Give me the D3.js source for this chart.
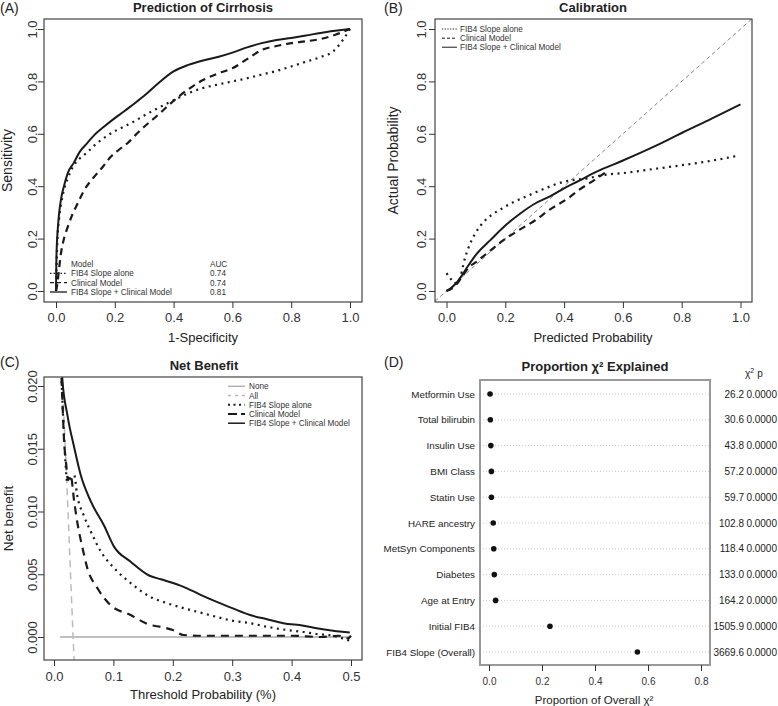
<!DOCTYPE html>
<html><head><meta charset="utf-8">
<script src="https://cdn.jsdelivr.net/npm/d3@7"></script>
<style>body{margin:0;background:#fff}svg{display:block;font-family:"Liberation Sans",Arial,sans-serif}</style>
</head><body><svg id="c" width="778" height="706"></svg>
<script>
// ---------- Panel A: ROC curves [1-specificity, sensitivity] ----------
const rocFib4 = [[0,0],[0.002,0.1],[0.005,0.2],[0.01,0.27],[0.017,0.33],[0.027,0.385],[0.04,0.43],[0.061,0.48],[0.08,0.505],[0.107,0.53],[0.13,0.555],[0.163,0.584],[0.2,0.61],[0.231,0.627],[0.27,0.65],[0.3,0.67],[0.333,0.69],[0.4,0.728],[0.45,0.755],[0.5,0.775],[0.55,0.788],[0.6,0.80],[0.65,0.812],[0.7,0.826],[0.75,0.84],[0.8,0.857],[0.85,0.875],[0.9,0.893],[0.943,0.915],[0.977,0.96],[1,1]];
const rocClin = [[0,0],[0.005,0.03],[0.01,0.08],[0.017,0.145],[0.025,0.19],[0.04,0.245],[0.055,0.29],[0.074,0.335],[0.096,0.385],[0.13,0.436],[0.16,0.475],[0.187,0.513],[0.215,0.54],[0.244,0.565],[0.27,0.595],[0.3,0.627],[0.35,0.675],[0.39,0.716],[0.45,0.77],[0.5,0.805],[0.55,0.83],[0.6,0.85],[0.65,0.885],[0.7,0.92],[0.75,0.935],[0.8,0.946],[0.85,0.953],[0.9,0.962],[0.95,0.978],[1,1]];
const rocBoth = [[0,0],[0.001,0.1],[0.003,0.18],[0.005,0.22],[0.01,0.29],[0.017,0.35],[0.027,0.40],[0.04,0.45],[0.061,0.49],[0.08,0.53],[0.107,0.565],[0.13,0.595],[0.163,0.627],[0.2,0.66],[0.231,0.685],[0.26,0.71],[0.3,0.745],[0.35,0.795],[0.4,0.838],[0.45,0.863],[0.5,0.88],[0.55,0.893],[0.6,0.91],[0.65,0.93],[0.7,0.946],[0.75,0.958],[0.8,0.966],[0.85,0.975],[0.9,0.985],[0.95,0.993],[1,1]];
const modelNames = ["FIB4 Slope alone","Clinical Model","FIB4 Slope + Clinical Model"];
const aucValues = ["0.74","0.74","0.81"];
const unitTicks = [0,0.2,0.4,0.6,0.8,1.0];

// ---------- Panel B: calibration [predicted, actual] ----------
const calFib4 = [[0,0.068],[0.015,0.045],[0.025,0.03],[0.04,0.035],[0.064,0.13],[0.08,0.18],[0.098,0.22],[0.132,0.27],[0.16,0.295],[0.189,0.315],[0.22,0.335],[0.257,0.354],[0.3,0.375],[0.336,0.392],[0.393,0.415],[0.44,0.425],[0.48,0.43],[0.52,0.44],[0.55,0.445],[0.6,0.45],[0.7,0.465],[0.8,0.48],[0.9,0.497],[0.985,0.515]];
const calClin = [[0,0],[0.03,0.02],[0.05,0.05],[0.076,0.09],[0.1,0.11],[0.15,0.155],[0.189,0.19],[0.25,0.235],[0.302,0.27],[0.35,0.31],[0.415,0.355],[0.45,0.385],[0.505,0.425],[0.55,0.46]];
const calBoth = [[0,0],[0.02,0.015],[0.04,0.04],[0.076,0.1],[0.1,0.138],[0.15,0.195],[0.2,0.25],[0.25,0.295],[0.3,0.333],[0.35,0.36],[0.4,0.392],[0.45,0.42],[0.5,0.45],[0.573,0.485],[0.6,0.498],[0.7,0.548],[0.75,0.575],[0.8,0.603],[0.9,0.657],[1.0,0.712]];
const diagRef = [0,1];

// ---------- Panel C: net benefit [threshold, net benefit] ----------
const nbNone = [[0.01,0],[0.5,0]];
const nbAll = [[0.005,0.03],[0.0213,0.0126],[0.0337,-0.0018],[0.037,-0.0055]];
const nbFib4 = [[0.01,0.024],[0.014,0.019],[0.0196,0.0137],[0.022,0.0124],[0.028,0.0126],[0.034,0.0129],[0.039,0.0113],[0.05,0.0097],[0.062,0.0084],[0.079,0.0068],[0.101,0.0055],[0.129,0.0043],[0.162,0.0032],[0.19,0.0027],[0.218,0.0023],[0.25,0.0019],[0.274,0.0016],[0.3,0.0013],[0.33,0.0011],[0.36,0.0008],[0.386,0.0006],[0.42,0.0004],[0.442,0.00024],[0.47,0.0001],[0.498,-0.0003]];
const nbClin = [[0.01,0.024],[0.014,0.019],[0.017,0.0156],[0.02,0.014],[0.024,0.0125],[0.028,0.0129],[0.034,0.0108],[0.039,0.0092],[0.048,0.0071],[0.056,0.0055],[0.073,0.0039],[0.095,0.00255],[0.129,0.00175],[0.162,0.00096],[0.18,0.0008],[0.2,0.00056],[0.218,0.00016],[0.25,0.0001],[0.3,0.0001],[0.35,0.0001],[0.4,0.0001],[0.45,0.0],[0.48,0.0001],[0.495,-0.0001],[0.5,0.0001]];
const nbBoth = [[0.01,0.024],[0.014,0.0206],[0.0225,0.0177],[0.034,0.0151],[0.045,0.0129],[0.062,0.0108],[0.084,0.0089],[0.101,0.0072],[0.129,0.006],[0.16,0.0049],[0.18,0.0046],[0.218,0.004],[0.245,0.0034],[0.274,0.0028],[0.3,0.0023],[0.33,0.00175],[0.36,0.0014],[0.386,0.0011],[0.42,0.0009],[0.442,0.0007],[0.47,0.0005],[0.498,0.00035]];
const nbXTicks = [0,0.1,0.2,0.3,0.4,0.5];
const nbYTicks = [0,0.005,0.010,0.015,0.020];
const nbLegend = ["None","All","FIB4 Slope alone","Clinical Model","FIB4 Slope + Clinical Model"];

// ---------- Panel D: proportion chi-square explained ----------
const features = ["Metformin Use","Total bilirubin","Insulin Use","BMI Class","Statin Use","HARE ancestry","MetSyn Components","Diabetes","Age at Entry","Initial FIB4","FIB4 Slope (Overall)"];
const chiSq = ["26.2","30.6","43.8","57.2","59.7","102.8","118.4","133.0","164.2","1505.9","3669.6"];
const pValues = ["0.0000","0.0000","0.0000","0.0000","0.0000","0.0000","0.0000","0.0000","0.0000","0.0000","0.0000"];
const propChi = [0.004,0.005,0.007,0.009,0.009,0.016,0.018,0.020,0.025,0.230,0.560];
const propTicks = [0,0.2,0.4,0.6,0.8];

// ================= drawing =================
const ink = "#1a1a1a", axisInk = "#333";
const svg = d3.select("#c");
const defs = svg.append("defs");
const fmt1 = d3.format(".1f"), fmt3 = d3.format(".3f");

function makePanel(id, b){
  defs.append("clipPath").attr("id","clip"+id).append("rect")
    .attr("x",b.x0).attr("y",b.y0).attr("width",b.x1-b.x0).attr("height",b.y1-b.y0);
  const g = svg.append("g");
  const plot = g.append("g").attr("clip-path",`url(#clip${id})`);
  return {g, plot};
}
function drawBox(g,b,color,w){
  g.append("rect").attr("x",b.x0).attr("y",b.y0).attr("width",b.x1-b.x0).attr("height",b.y1-b.y0)
    .attr("fill","none").attr("stroke",color).attr("stroke-width",w);
}
function xAxis(g, xs, b, ticks, f, fs, baseline){
  const ax = g.append("g").attr("transform",`translate(0,${b.y1})`)
    .call(d3.axisBottom(xs).tickValues(ticks).tickFormat(f).tickSize(6).tickSizeOuter(0));
  ax.attr("font-family",null).attr("font-size",fs);
  ax.select(".domain").remove();
  ax.selectAll("line").attr("stroke",axisInk);
  ax.selectAll("text").attr("y",baseline-b.y1).attr("dy",null).attr("fill",axisInk);
}
function yAxis(g, ys, b, ticks, f, fs, centerX){
  const ax = g.append("g").attr("transform",`translate(${b.x0},0)`)
    .call(d3.axisLeft(ys).tickValues(ticks).tickFormat(f).tickSize(6).tickSizeOuter(0));
  ax.attr("font-family",null).attr("font-size",fs);
  ax.select(".domain").remove();
  ax.selectAll("line").attr("stroke",axisInk);
  ax.selectAll("text").attr("x",null).attr("dy",null).attr("text-anchor","middle").attr("fill",axisInk)
    .attr("transform",`translate(${centerX-b.x0+fs*0.36},0) rotate(-90)`);
}
function label(g, txt, x, y, fs, opts={}){
  const t = g.append("text").attr("x",x).attr("y",y).attr("font-size",fs).attr("fill",opts.fill||"#222")
    .attr("text-anchor",opts.anchor||"middle").text(txt);
  if(opts.bold) t.attr("font-weight","bold");
  return t;
}
function rotLabel(g, txt, cx, cy, fs){
  g.append("text").attr("font-size",fs).attr("fill","#222").attr("text-anchor","middle")
    .attr("transform",`translate(${cx+fs*0.36},${cy}) rotate(-90)`).text(txt);
}
function curve(g, data, xs, ys, style){
  const line = d3.line().x(d=>xs(d[0])).y(d=>ys(d[1])).curve(style.smooth===false?d3.curveLinear:d3.curveMonotoneX);
  g.append("path").datum(data).attr("d",line).attr("fill","none")
    .attr("stroke",style.color||ink).attr("stroke-width",style.w||2)
    .attr("stroke-dasharray",style.dash||null).attr("stroke-linejoin","round");
}
const stDot = {dash:"2,4.5",w:2.2}, stDash = {dash:"7,5",w:2.2}, stSolid = {w:2};

// ---- Panel A ----
{
  const b = {x0:44,x1:362,y0:19,y1:302};
  const xs = d3.scaleLinear().domain([0,1]).range([56,350]);
  const ys = d3.scaleLinear().domain([0,1]).range([291,29]);
  const {g, plot} = makePanel("A", b);
  curve(plot, rocFib4, xs, ys, stDot);
  curve(plot, rocClin, xs, ys, stDash);
  curve(plot, rocBoth, xs, ys, stSolid);
  drawBox(g,b,"#444",1.2);
  xAxis(g, xs, b, unitTicks, fmt1, 13, 321.5);
  yAxis(g, ys, b, unitTicks, fmt1, 13, 32);
  label(g, "Prediction of Cirrhosis", 203, 12, 13, {bold:true});
  label(g, "(A)", 0, 13, 14, {anchor:"start"});
  label(g, "1-Specificity", 203, 341.5, 13);
  rotLabel(g, "Sensitivity", 7, 160.5, 14);
  const lg = g.append("g").attr("font-size",8.2).attr("fill","#333");
  const rows = [264,273.3,282.6,292];
  lg.append("text").attr("x",71).attr("y",rows[0]+3).text("Model");
  lg.append("text").attr("x",210).attr("y",rows[0]+3).text("AUC");
  modelNames.forEach((m,i)=>{
    const y = rows[i+1];
    lg.append("line").attr("x1",50).attr("x2",67).attr("y1",y).attr("y2",y).attr("stroke",ink)
      .attr("stroke-width",1.3).attr("stroke-dasharray",i===0?"1.5,2":(i===1?"4,3":null));
    lg.append("text").attr("x",71).attr("y",y+3).text(m);
    lg.append("text").attr("x",210).attr("y",y+3).text(aucValues[i]);
  });
}

// ---- Panel B ----
{
  const b = {x0:435,x1:752,y0:19,y1:302};
  const xs = d3.scaleLinear().domain([0,1]).range([446.5,740.5]);
  const ys = d3.scaleLinear().domain([0,1]).range([291,29]);
  const {g, plot} = makePanel("B", b);
  const ext = [xs.invert(b.x0), xs.invert(b.x1)];
  const dline = d3.line().x(d=>xs(d)).y(d=>ys(d));
  plot.append("path").datum([ext[0], diagRef[0], diagRef[1], ext[1]]).attr("d",dline).attr("fill","none")
    .attr("stroke","#777").attr("stroke-width",0.9).attr("stroke-dasharray","4,3");
  curve(plot, calFib4, xs, ys, stDot);
  curve(plot, calClin, xs, ys, stDash);
  curve(plot, calBoth, xs, ys, stSolid);
  drawBox(g,b,"#444",1.2);
  xAxis(g, xs, b, unitTicks, fmt1, 13, 321.5);
  yAxis(g, ys, b, unitTicks, fmt1, 13, 421);
  label(g, "Calibration", 593, 12, 13, {bold:true});
  label(g, "(B)", 384, 13, 14, {anchor:"start"});
  label(g, "Predicted Probability", 593, 341.5, 13);
  rotLabel(g, "Actual Probability", 393, 160.5, 14);
  const lg = g.append("g").attr("font-size",8.2).attr("fill","#333");
  const rows = [29,38.2,47.2];
  modelNames.forEach((m,i)=>{
    const y = rows[i];
    lg.append("line").attr("x1",442).attr("x2",457).attr("y1",y).attr("y2",y).attr("stroke",ink)
      .attr("stroke-width",1).attr("stroke-dasharray",i===0?"1.2,1.5":(i===1?"3,2":null));
    lg.append("text").attr("x",460).attr("y",y+3).text(m);
  });
}

// ---- Panel C ----
{
  const b = {x0:44,x1:362,y0:377,y1:660};
  const xs = d3.scaleLinear().domain([0,0.5]).range([54,351]);
  const ys = d3.scaleLinear().domain([0,0.02]).range([637,386]);
  const {g, plot} = makePanel("C", b);
  curve(plot, nbNone, xs, ys, {color:"#aaa",w:1.5,smooth:false});
  curve(plot, nbAll, xs, ys, {color:"#bbb",w:1.5,dash:"7,5",smooth:false});
  curve(plot, nbFib4, xs, ys, stDot);
  curve(plot, nbClin, xs, ys, {dash:"8,6",w:2.2});
  curve(plot, nbBoth, xs, ys, stSolid);
  drawBox(g,b,"#444",1.2);
  xAxis(g, xs, b, nbXTicks, fmt1, 13, 680.5);
  yAxis(g, ys, b, nbYTicks, fmt3, 13, 32);
  label(g, "Net Benefit", 204, 369.5, 13, {bold:true});
  label(g, "(C)", 0, 367, 14, {anchor:"start"});
  label(g, "Threshold Probability (%)", 203, 699, 13);
  rotLabel(g, "Net benefit", 8, 518.5, 13.5);
  const lg = g.append("g").attr("font-size",8.2).attr("fill","#333");
  const rows = [386.3,395.5,404.7,414,423.2];
  const lst = [{color:"#aaa",w:1.3},{color:"#bbb",w:1.3,dash:"3,4"},{color:ink,w:2,dash:"2,3.5"},{color:ink,w:2,dash:"9,4"},{color:ink,w:1.5}];
  nbLegend.forEach((m,i)=>{
    const y = rows[i];
    lg.append("line").attr("x1",228).attr("x2",245).attr("y1",y).attr("y2",y).attr("stroke",lst[i].color)
      .attr("stroke-width",lst[i].w).attr("stroke-dasharray",lst[i].dash||null);
    lg.append("text").attr("x",249).attr("y",y+3).text(m);
  });
}

// ---- Panel D ----
{
  const b = {x0:480,x1:710,y0:380,y1:665};
  const xs = d3.scaleLinear().domain([0,0.8]).range([489,701]);
  const ys = d3.scalePoint().domain(features).range([394,652]);
  const g = svg.append("g");
  features.forEach(f=>{
    g.append("line").attr("x1",b.x0).attr("x2",b.x1).attr("y1",ys(f)).attr("y2",ys(f))
      .attr("stroke","#bbb").attr("stroke-width",0.8).attr("stroke-dasharray","1,2");
  });
  g.selectAll("circle.pt").data(features).join("circle").attr("class","pt")
    .attr("cx",(f,i)=>xs(propChi[i])).attr("cy",f=>ys(f)).attr("r",2.8).attr("fill","#111");
  drawBox(g,b,"#999",2);
  const ay = g.append("g").attr("transform",`translate(${b.x0},0)`).call(d3.axisLeft(ys).tickSize(0).tickPadding(5));
  ay.attr("font-family",null).attr("font-size",9.8);
  ay.select(".domain").remove();
  ay.selectAll("text").attr("fill","#222");
  xAxis(g, xs, b, propTicks, fmt1, 10, 685);
  features.forEach((f,i)=>{
    g.append("text").attr("x",744).attr("y",ys(f)+3.5).attr("font-size",10).attr("fill","#222")
      .attr("text-anchor","end").text(chiSq[i]);
    g.append("text").attr("x",777).attr("y",ys(f)+3.5).attr("font-size",10).attr("fill","#222")
      .attr("text-anchor","end").text(pValues[i]);
  });
  const hd = g.append("text").attr("x",745).attr("y",377).attr("font-size",10).attr("fill","#222");
  hd.append("tspan").text("χ");
  hd.append("tspan").attr("font-size",7).attr("dy",-4).text("2");
  hd.append("tspan").attr("dy",4).attr("dx",3).text("p");
  label(g, "Proportion χ² Explained", 595, 371, 13, {bold:true});
  label(g, "(D)", 384, 367, 14, {anchor:"start"});
  label(g, "Proportion of Overall χ²", 594, 703.5, 11.5);
}
</script></body></html>
